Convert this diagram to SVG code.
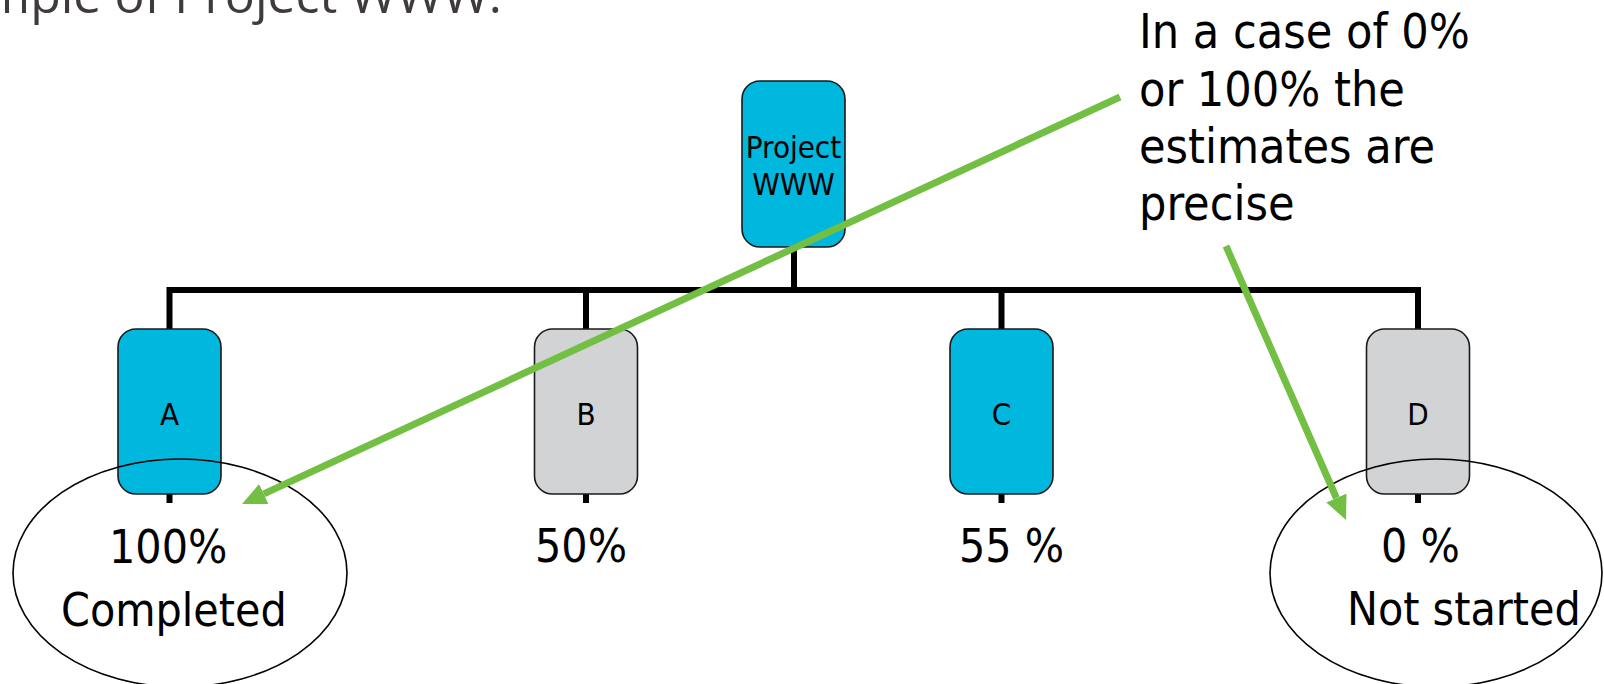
<svg xmlns="http://www.w3.org/2000/svg" width="1604" height="684" viewBox="0 0 1604 684">
<style>
text{font-family:'DejaVu Sans Condensed','DejaVu Sans',sans-serif;font-stretch:condensed;fill:#000}
.box{stroke:#1a1a1a;stroke-width:1.6}
.blue{fill:#00B7DD}
.grey{fill:#D2D3D5}
.tree{stroke:#000;stroke-width:6;fill:none}
.lbl{font-size:31px;text-anchor:middle}
.pct{font-size:46px}
.ell{fill:none;stroke:#000;stroke-width:1.6}
.green{stroke:#72BF44;stroke-width:7;fill:none}
.note{font-size:48px}
.title{font-family:'Open Sans',sans-serif;font-stretch:normal;font-size:50px;fill:#403B3B;text-anchor:end}
</style>
<defs>
<marker id="ah" viewBox="0 0 24 22" refX="0" refY="11" markerWidth="24" markerHeight="22" markerUnits="userSpaceOnUse" orient="auto">
<path d="M0,0 L24,11 L0,22 z" fill="#72BF44"/>
</marker>
</defs>
<text class="title" x="502" y="13">mple of Project WWW.</text>
<g id="connectors">
<path class="tree" d="M794,247 V290 M166.5,290 H1421 M169.5,290 V329 M586,290 V329 M1001.5,290 V329 M1418,290 V329"/>
<path class="tree" d="M169.5,494 V503 M586,494 V503 M1001.5,494 V503 M1418,494 V503"/>
</g>
<g id="project">
<rect class="box blue" x="742" y="81" width="103" height="166" rx="18"/>
<text class="lbl" x="793.5" y="158">Project</text>
<text class="lbl" x="793.5" y="195">WWW</text>
</g>
<g id="nodeA">
<rect class="box blue" x="118" y="329" width="103" height="165" rx="18"/>
<text class="lbl" x="169.5" y="425">A</text>
</g>
<g id="nodeB">
<rect class="box grey" x="534.5" y="329" width="103" height="165" rx="18"/>
<text class="lbl" x="586" y="425">B</text>
</g>
<g id="nodeC">
<rect class="box blue" x="950" y="329" width="103" height="165" rx="18"/>
<text class="lbl" x="1001.5" y="425">C</text>
</g>
<g id="nodeD">
<rect class="box grey" x="1366.5" y="329" width="103" height="165" rx="18"/>
<text class="lbl" x="1418" y="425">D</text>
</g>
<g id="labelA">
<ellipse class="ell" cx="180" cy="573" rx="167" ry="114"/>
<text class="pct" x="109" y="563">100%</text>
<text class="pct" x="61" y="626">Completed</text>
</g>
<g id="labelB">
<text class="pct" x="535" y="562">50%</text>
</g>
<g id="labelC">
<text class="pct" x="959" y="562">55 %</text>
</g>
<g id="labelD">
<ellipse class="ell" cx="1436" cy="573" rx="166" ry="114"/>
<text class="pct" x="1381" y="562">0 %</text>
<text class="pct" x="1347" y="625">Not started</text>
</g>
<g id="note">
<text class="note" x="1139" y="48">In a case of 0%</text>
<text class="note" x="1139" y="106">or 100% the</text>
<text class="note" x="1139" y="163">estimates are</text>
<text class="note" x="1139" y="220">precise</text>
</g>
<g id="arrows">
<line class="green" x1="1120" y1="97" x2="263.8" y2="493.9" marker-end="url(#ah)"/>
<line class="green" x1="1226" y1="246" x2="1336.4" y2="498" marker-end="url(#ah)"/>
</g>
</svg>
